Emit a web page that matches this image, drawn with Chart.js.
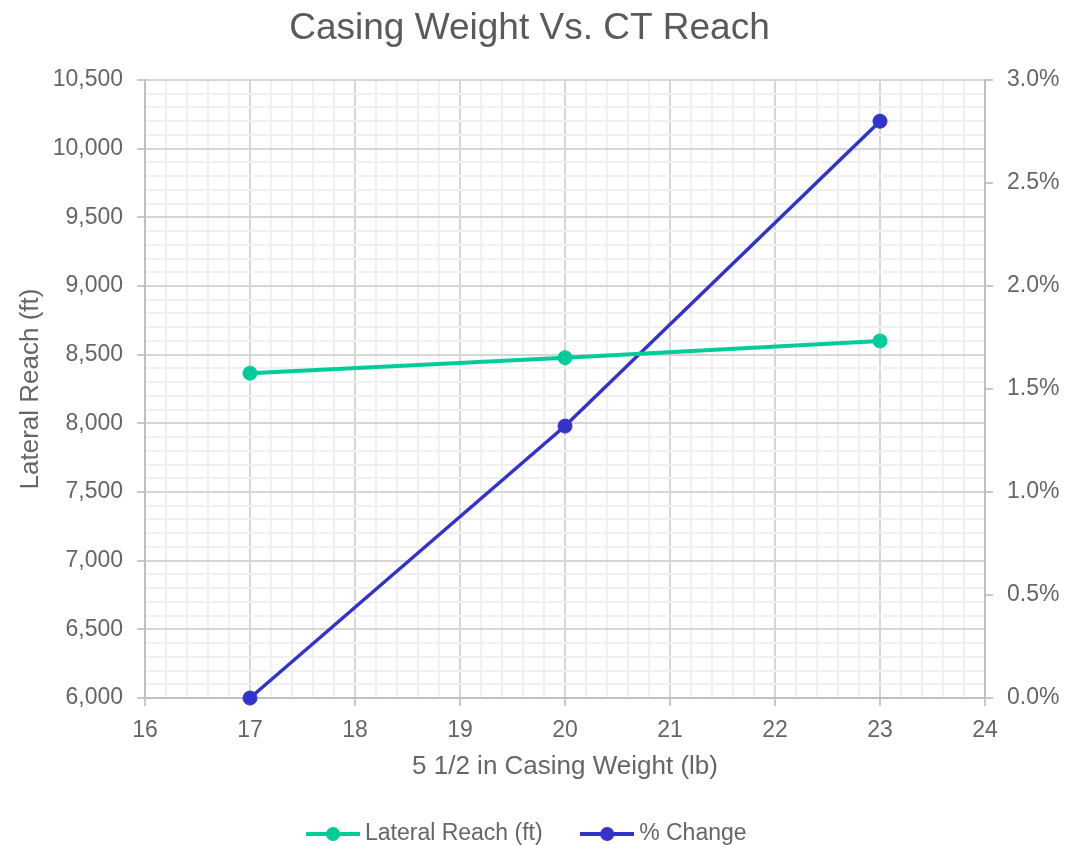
<!DOCTYPE html>
<html>
<head>
<meta charset="utf-8">
<title>Casing Weight Vs. CT Reach</title>
<script src="https://cdn.jsdelivr.net/npm/chart.js@4/dist/chart.umd.min.js"></script>
<style>
  html, body { margin: 0; padding: 0; background: #ffffff; }
  #wrap { width: 1077px; height: 845px; }
</style>
</head>
<body>
<div id="wrap"><canvas id="chart"></canvas></div>
<script>
// Casing weight (lb) for 5 1/2 in casing
const casingWeights = [17, 20, 23];
// Lateral reach achieved by coiled tubing (ft)
const lateralReach = [8365, 8478, 8600];
// Percent change in reach relative to the 17 lb casing
const pctChange = [0, 1.32, 2.80];

const GREEN = '#00CC99';
const BLUE = '#3333CC';
const TEXT = '#666666';
const FONT = "'Liberation Sans', Arial, Helvetica, sans-serif";
const MAJOR_GRID = '#d6d6d6';
const MINOR_GRID = '#f0f0f0';

// Legend marker: short line with a dot in the middle
function legendMarker(color) {
  const c = document.createElement('canvas');
  c.width = 54; c.height = 16;
  const g = c.getContext('2d');
  g.strokeStyle = color;
  g.lineWidth = 4;
  g.beginPath(); g.moveTo(0, 8); g.lineTo(54, 8); g.stroke();
  g.fillStyle = color;
  g.beginPath(); g.arc(27, 8, 7, 0, Math.PI * 2); g.fill();
  return c;
}
const markers = [legendMarker(GREEN), legendMarker(BLUE)];

const isMultiple = (v, step) => Math.abs(v / step - Math.round(v / step)) < 1e-6;

new Chart(document.getElementById('chart'), {
  type: 'line',
  data: {
    datasets: [
      {
        label: 'Lateral Reach (ft)',
        data: casingWeights.map((w, i) => ({ x: w, y: lateralReach[i] })),
        yAxisID: 'y',
        borderColor: GREEN,
        backgroundColor: GREEN,
        borderWidth: 4,
        pointRadius: 7,
        pointHoverRadius: 7,
        pointBorderWidth: 1,
        tension: 0,
        clip: false
      },
      {
        label: '% Change',
        data: casingWeights.map((w, i) => ({ x: w, y: pctChange[i] })),
        yAxisID: 'y1',
        borderColor: BLUE,
        backgroundColor: BLUE,
        borderWidth: 3.5,
        pointRadius: 7,
        pointHoverRadius: 7,
        pointBorderWidth: 1,
        tension: 0,
        clip: false
      }
    ]
  },
  options: {
    responsive: true,
    maintainAspectRatio: false,
    animation: false,
    layout: { padding: { left: 0, right: 18, top: 4, bottom: -10.5 } },
    plugins: {
      title: {
        display: true,
        text: 'Casing Weight Vs. CT Reach',
        color: '#5a5a5a',
        font: { family: FONT, size: 37, weight: 'normal' },
        padding: { top: 3, bottom: 28.6 }
      },
      legend: {
        position: 'bottom',
        labels: {
          color: TEXT,
          font: { family: FONT, size: 23 },
          usePointStyle: true,
          pointStyleWidth: 41,
          boxHeight: 16,
          padding: 44,
          generateLabels(chart) {
            return chart.data.datasets.map((ds, i) => ({
              text: ds.label,
              fillStyle: ds.backgroundColor,
              strokeStyle: ds.borderColor,
              pointStyle: markers[i],
              fontColor: TEXT,
              hidden: !chart.isDatasetVisible(i),
              datasetIndex: i
            }));
          }
        }
      },
      tooltip: { enabled: false }
    },
    scales: {
      x: {
        type: 'linear',
        min: 16,
        max: 24,
        title: {
          display: true,
          text: '5 1/2 in Casing Weight (lb)',
          color: TEXT,
          font: { family: FONT, size: 26 },
          padding: { top: -4.2, bottom: -4.1 }
        },
        ticks: {
          stepSize: 0.2,
          autoSkip: false,
          maxRotation: 0,
          padding: 11,
          color: TEXT,
          font: { family: FONT, size: 23 },
          callback: (v) => isMultiple(v, 1) ? String(Math.round(v)) : ''
        },
        grid: {
          color: (ctx) => ctx.tick && isMultiple(ctx.tick.value, 1) ? MAJOR_GRID : MINOR_GRID,
          tickColor: (ctx) => ctx.tick && isMultiple(ctx.tick.value, 1) ? '#c8c8c8' : 'rgba(0,0,0,0)',
          lineWidth: 2,
          tickLength: 8
        },
        border: { color: '#c0c0c0', width: 2 }
      },
      y: {
        type: 'linear',
        position: 'left',
        min: 6000,
        max: 10500,
        afterFit: (scale) => { scale.width = 145; },
        title: {
          display: true,
          text: 'Lateral Reach (ft)',
          color: TEXT,
          font: { family: FONT, size: 26 },
          padding: { top: 15, bottom: 4 }
        },
        ticks: {
          stepSize: 100,
          autoSkip: false,
          padding: 14,
          color: TEXT,
          font: { family: FONT, size: 23 },
          callback: (v) => isMultiple(v, 500) ? Math.round(v).toLocaleString('en-US') : ''
        },
        grid: {
          color: (ctx) => ctx.tick && isMultiple(ctx.tick.value, 500) ? MAJOR_GRID : MINOR_GRID,
          tickColor: (ctx) => ctx.tick && isMultiple(ctx.tick.value, 500) ? '#c8c8c8' : 'rgba(0,0,0,0)',
          lineWidth: 2,
          tickLength: 8
        },
        border: { color: '#c0c0c0', width: 2 }
      },
      y1: {
        type: 'linear',
        position: 'right',
        min: 0,
        max: 3,
        afterFit: (scale) => { scale.width = 74; },
        ticks: {
          stepSize: 0.5,
          padding: 14,
          color: TEXT,
          font: { family: FONT, size: 23 },
          callback: (v) => v.toFixed(1) + '%'
        },
        grid: {
          drawOnChartArea: false,
          color: '#c8c8c8',
          lineWidth: 2,
          tickLength: 8
        },
        border: { color: '#c0c0c0', width: 2 }
      }
    }
  }
});
</script>
</body>
</html>
